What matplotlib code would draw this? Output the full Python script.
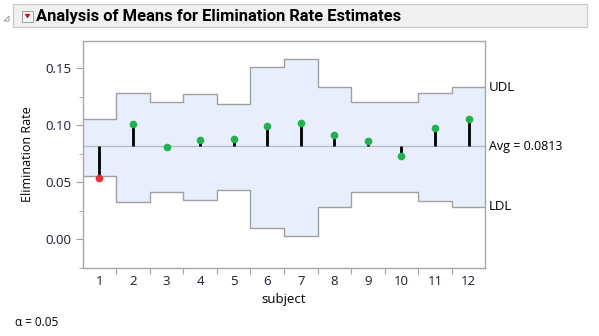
import matplotlib
matplotlib.use("Agg")
import matplotlib.pyplot as plt
import numpy as np
from matplotlib.patches import Rectangle, Polygon

subjects = [1, 2, 3, 4, 5, 6, 7, 8, 9, 10, 11, 12]
rates = [0.0532, 0.1011, 0.0807, 0.0871, 0.0877, 0.0988, 0.1017, 0.0912, 0.0860, 0.0731, 0.0977, 0.1050]
udl = [0.1055, 0.1284, 0.1199, 0.1275, 0.1187, 0.1509, 0.1580, 0.1336, 0.1199, 0.1199, 0.1278, 0.1330]
ldl = [0.0556, 0.0327, 0.0415, 0.0342, 0.0430, 0.0102, 0.0032, 0.0278, 0.0415, 0.0415, 0.0336, 0.0284]
avg = 0.0813
alpha_txt = "α = 0.05"
title = "Analysis of Means for Elimination Rate Estimates"

plt.rcParams['font.family'] = ['Open Sans', 'DejaVu Sans']
W, H = 599, 336
fig = plt.figure(figsize=(W / 100, H / 100), dpi=100)
FS = 9

# title bar
fig.patches.append(Rectangle((13 / W, 1 - 27 / H), (587 - 13) / W, 23 / H,
                             transform=fig.transFigure, facecolor='#f0f0f0',
                             edgecolor='#c8c8c8', lw=0.8, zorder=0))
# red triangle button
fig.patches.append(Rectangle((22 / W, 1 - 22 / H), 11 / W, 11 / H,
                             transform=fig.transFigure, facecolor='#f4f4f4',
                             edgecolor='#a0a0a0', lw=0.7, zorder=1))
fig.patches.append(Polygon([(24.5 / W, 1 - 14 / H), (30.5 / W, 1 - 14 / H), (27.5 / W, 1 - 18.5 / H)],
                           closed=True, transform=fig.transFigure, facecolor='#d01020',
                           edgecolor='none', zorder=2))
# disclosure triangle
fig.patches.append(Polygon([(4 / W, 1 - 21 / H), (9 / W, 1 - 21 / H), (9 / W, 1 - 16 / H)],
                           closed=True, transform=fig.transFigure, facecolor='none',
                           edgecolor='#909090', lw=0.6, zorder=2))
fig.text(36 / W, 1 - 16 / H, title, fontsize=11.9, fontweight='bold', va='center', ha='left',
         color='#000000', family=['Roboto', 'DejaVu Sans'])

ax = fig.add_axes([82.7 / W, 1 - 267.7 / H, (485.3 - 82.7) / W, (267.7 - 41) / H])
x = np.array(subjects, dtype=float)
edges = np.concatenate([x - 0.5, [x[-1] + 0.5]])
u_step = np.concatenate([udl, [udl[-1]]])
l_step = np.concatenate([ldl, [ldl[-1]]])
ax.fill_between(edges, l_step, u_step, step='post', color='#e8eefc', lw=0, zorder=1)
ax.step(edges, u_step, where='post', color='#a0a0a0', lw=1.0, zorder=2)
ax.step(edges, l_step, where='post', color='#a0a0a0', lw=1.0, zorder=2)
ax.axhline(avg, color='#b4bccc', lw=1.0, zorder=2)

for xi, r, u, l in zip(x, rates, udl, ldl):
    ax.plot([xi, xi], [avg, r], color='black', lw=2.0, zorder=3, solid_capstyle='butt')
    c = '#e8303c' if (r > u or r < l) else '#22b14c'
    ax.plot(xi, r, 'o', color=c, ms=4.5, mec=c, zorder=4)

ax.set_xlim(0.5, 12.5)
ax.set_ylim(-0.0249, 0.1737)
ax.set_yticks([0.0, 0.05, 0.10, 0.15])
ax.set_yticklabels(['0.00', '0.05', '0.10', '0.15'])
ax.set_yticks([-0.025, 0.025, 0.075, 0.125], minor=True)
ax.tick_params(axis='y', which='major', length=5, color='#a0a0a0', labelsize=FS + 0.5, pad=3,
               labelcolor='#1a1a30')
ax.tick_params(axis='y', which='minor', length=3, color='#a0a0a0')

ax.set_xticks(np.arange(1.5, 12.5, 1.0))
ax.set_xticklabels([])
ax.tick_params(axis='x', which='major', length=4, color='#a0a0a0')
ax.set_xticks(x, minor=True)
ax.set_xticklabels([str(s) for s in subjects], minor=True)
ax.tick_params(axis='x', which='minor', length=0, labelsize=FS + 0.5, pad=5, labelcolor='#1a1a30')

for sp in ax.spines.values():
    sp.set_color('#a8a8a8')
    sp.set_linewidth(1.0)

ax.set_ylabel('Elimination Rate', fontsize=FS, labelpad=8)
ax.set_xlabel('subject', fontsize=FS + 0.5, labelpad=4)

ax.text(1.008, udl[-1], 'UDL', transform=ax.get_yaxis_transform(), va='center', ha='left', fontsize=FS + 0.5)
ax.text(1.008, avg, 'Avg = 0.0813', transform=ax.get_yaxis_transform(), va='center', ha='left', fontsize=FS)
ax.text(1.008, ldl[-1], 'LDL', transform=ax.get_yaxis_transform(), va='center', ha='left', fontsize=FS + 0.5)

fig.text(15 / W, 1 - 322 / H, alpha_txt, fontsize=8.5, va='center', ha='left')

fig.savefig('out.png', dpi=100)
